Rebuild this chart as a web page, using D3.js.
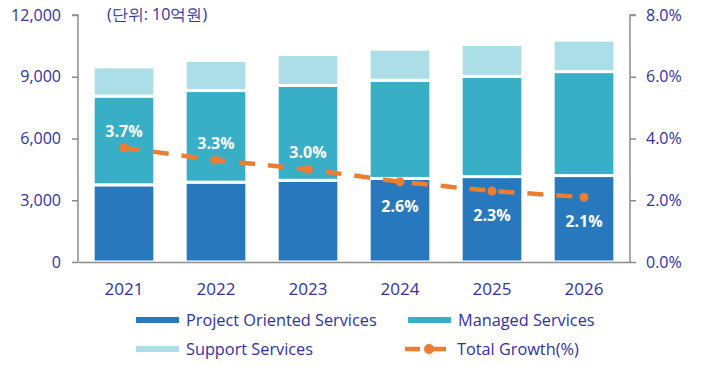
<!DOCTYPE html>
<html>
<head>
<meta charset="utf-8">
<script src="https://cdn.jsdelivr.net/npm/d3@7.9.0/dist/d3.min.js"></script>
<style>
  html, body { margin: 0; padding: 0; background: #fff; }
  svg text { font-family: "Open Sans", "Noto Sans", sans-serif; }
</style>
</head>
<body>
<svg id="chart" width="702" height="367"></svg>
<script>
// data (단위: 10억원)
const years = ['2021', '2022', '2023', '2024', '2025', '2026'];
const projectOriented = [3750, 3880, 3970, 4060, 4150, 4200];
const managed = [4310, 4450, 4610, 4770, 4870, 5050];
const support = [1420, 1460, 1500, 1510, 1550, 1530];
const growth = [3.7, 3.3, 3.0, 2.6, 2.3, 2.1];
const leftTicks = [0, 3000, 6000, 9000, 12000];
const rightTicks = [0, 2, 4, 6, 8];

const textColor = '#3131a4';
const colors = { pos: '#2878bd', ms: '#38aec7', ss: '#acdee7', growth: '#ee7d31' };

const svg = d3.select('#chart');
const plotLeft = 78, plotRight = 630, plotTop = 15, plotBottom = 262;

const x = d3.scaleBand().domain(years).range([plotLeft, plotRight]).paddingInner(0.33).paddingOuter(0.165);
const y = d3.scaleLinear().domain([0, 12000]).range([plotBottom, plotTop]);
const y2 = d3.scaleLinear().domain([0, 8]).range([plotBottom, plotTop]);

// stacked bars
const rows = years.map((yr, i) => ({ year: yr, pos: projectOriented[i], ms: managed[i], ss: support[i] }));
const stack = d3.stack().keys(['pos', 'ms', 'ss'])(rows);

svg.append('g').selectAll('g')
  .data(stack)
  .join('g')
  .attr('fill', d => colors[d.key])
  .selectAll('rect')
  .data(d => d)
  .join('rect')
  .attr('x', d => x(d.data.year))
  .attr('y', d => y(d[1]))
  .attr('width', x.bandwidth())
  .attr('height', d => y(d[0]) - y(d[1]))
  .attr('stroke', '#fff')
  .attr('stroke-width', 3);

// axes
const axisColor = '#8c8c8c';
const gl = svg.append('g').attr('transform', `translate(${plotLeft},0)`)
  .call(d3.axisLeft(y).tickValues(leftTicks).tickFormat(d3.format(',')).tickSize(6).tickPadding(11));
const gr = svg.append('g').attr('transform', `translate(${plotRight},0)`)
  .call(d3.axisRight(y2).tickValues(rightTicks).tickFormat(d => d.toFixed(1) + '%').tickSize(6).tickPadding(10));
[gl, gr].forEach(g => {
  g.select('.domain').attr('stroke', axisColor).attr('stroke-width', 1.5)
    .attr('d', g === gl ? `M-6,${plotTop}H0V${plotBottom}` : `M6,${plotTop}H0V${plotBottom}`);
  g.selectAll('.tick line').attr('stroke', axisColor).attr('stroke-width', 1.5);
  g.selectAll('.tick text').attr('fill', textColor).attr('font-size', 16)
    .attr('font-family', '"Open Sans", sans-serif');
});

const gx = svg.append('g').attr('transform', `translate(0,${plotBottom})`)
  .call(d3.axisBottom(x).tickSize(0).tickPadding(21));
gx.select('.domain').attr('stroke', axisColor).attr('stroke-width', 1.5);
gx.selectAll('.tick text').attr('fill', textColor).attr('font-size', 17)
  .attr('font-family', '"Open Sans", sans-serif');

// growth line
const cx = d => x(d.year) + x.bandwidth() / 2;
const pts = years.map((yr, i) => ({ year: yr, g: growth[i], posTop: projectOriented[i] }));
const line = d3.line().x(cx).y(d => y2(d.g));
svg.append('path')
  .datum(pts)
  .attr('d', line)
  .attr('fill', 'none')
  .attr('stroke', colors.growth)
  .attr('stroke-width', 4.5)
  .attr('stroke-dasharray', '16,13');
svg.append('g').selectAll('circle')
  .data(pts)
  .join('circle')
  .attr('cx', cx)
  .attr('cy', d => y2(d.g))
  .attr('r', 4.5)
  .attr('fill', colors.growth);

// labels: above the point when it sits above the dark segment, else below
svg.append('g').selectAll('text')
  .data(pts)
  .join('text')
  .attr('x', cx)
  .attr('y', d => y2(d.g) < y(d.posTop) ? y2(d.g) - 11 : y2(d.g) + 30)
  .attr('text-anchor', 'middle')
  .attr('fill', '#fff')
  .attr('font-weight', 700)
  .attr('font-size', 16)
  .text(d => d.g.toFixed(1) + '%');

// unit label
svg.append('text')
  .attr('x', 107).attr('y', 20)
  .attr('fill', textColor)
  .attr('font-size', 16)
  .attr('font-family', '"Noto Sans CJK KR", "Open Sans", sans-serif')
  .text('(단위: 10억원)');

// legend
const legend = [
  { label: 'Project Oriented Services', type: 'bar', color: colors.pos, lx: 136, row: 0 },
  { label: 'Managed Services', type: 'bar', color: colors.ms, lx: 408, row: 0 },
  { label: 'Support Services', type: 'bar', color: colors.ss, lx: 136, row: 1 },
  { label: 'Total Growth(%)', type: 'line', color: colors.growth, lx: 405, row: 1 }
];
const lg = svg.append('g').selectAll('g')
  .data(legend)
  .join('g')
  .attr('transform', d => `translate(${d.lx},${320 + d.row * 29})`);
lg.filter(d => d.type === 'bar').append('rect')
  .attr('x', 0).attr('y', -3).attr('width', 43).attr('height', 6)
  .attr('fill', d => d.color);
lg.filter(d => d.type === 'line').append('path')
  .attr('d', 'M0,0H47')
  .attr('stroke', d => d.color).attr('stroke-width', 4.5)
  .attr('stroke-dasharray', '15,6,5,0');
lg.filter(d => d.type === 'line').append('circle')
  .attr('cx', 24).attr('cy', 0).attr('r', 5)
  .attr('fill', d => d.color);
lg.append('text')
  .attr('x', d => d.type === 'bar' ? 50 : 52)
  .attr('y', 0)
  .attr('dy', '0.35em')
  .attr('fill', textColor)
  .attr('font-size', 16.3)
  .text(d => d.label);
</script>
</body>
</html>
